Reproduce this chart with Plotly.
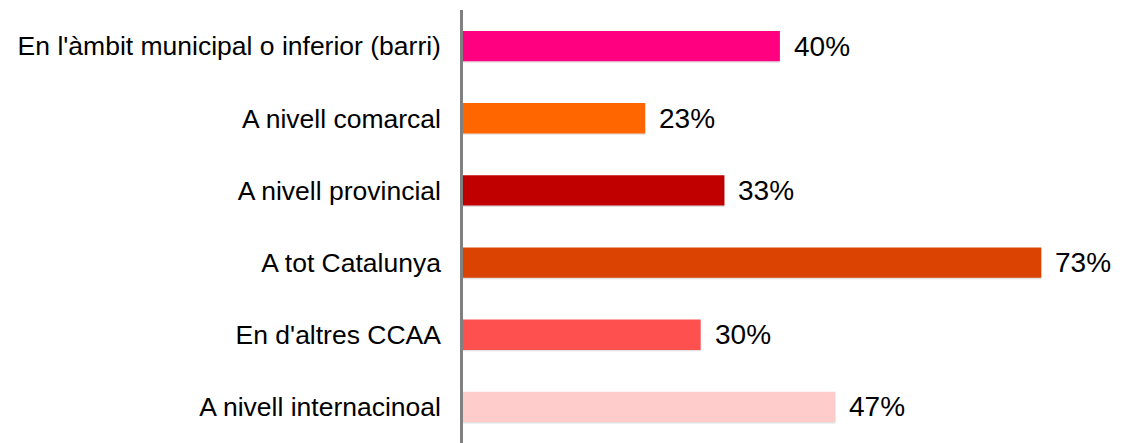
import plotly.graph_objects as go

categories = [
    "En l'àmbit municipal o inferior (barri)",
    "A nivell comarcal",
    "A nivell provincial",
    "A tot Catalunya",
    "En d'altres CCAA",
    "A nivell internacinoal",
]
values = [40, 23, 33, 73, 30, 47]
colors = ["#FF0080", "#FF6600", "#C00000", "#DA4302", "#FF5050", "#FFCCCC"]
labels = [f"{v}%" for v in values]

fig = go.Figure()

# subtle drop shadow
fig.add_trace(go.Bar(
    y=categories, x=values, orientation="h",
    marker=dict(color="rgba(0,0,0,0.12)", line=dict(width=0)),
    width=0.42, offset=-0.19, hoverinfo="skip", showlegend=False,
))
fig.add_trace(go.Bar(
    y=categories, x=values, orientation="h",
    marker=dict(color=colors, line=dict(width=0)),
    width=0.42, showlegend=False,
))

for c, v, t in zip(categories, values, labels):
    fig.add_annotation(x=v, y=c, text=t, showarrow=False, xanchor="left",
                       xshift=12, font=dict(size=28, color="#000000",
                                            family="Liberation Sans, Arial, sans-serif"))

fig.update_layout(
    width=1115, height=435,
    margin=dict(l=455, r=8, t=2, b=0),
    plot_bgcolor="white", paper_bgcolor="white",
    barmode="overlay",
    font=dict(family="Liberation Sans, Arial, sans-serif", color="#000000"),
)
fig.update_xaxes(range=[0, 82.3], visible=False, showgrid=False, zeroline=False)
fig.update_yaxes(
    autorange="reversed", showgrid=False, zeroline=False,
    showline=True, linecolor="#808080", linewidth=2.5,
    ticks="", ticklabelstandoff=14,
    tickfont=dict(size=26.5, color="#000000"),
)

fig.write_html("out.html")
